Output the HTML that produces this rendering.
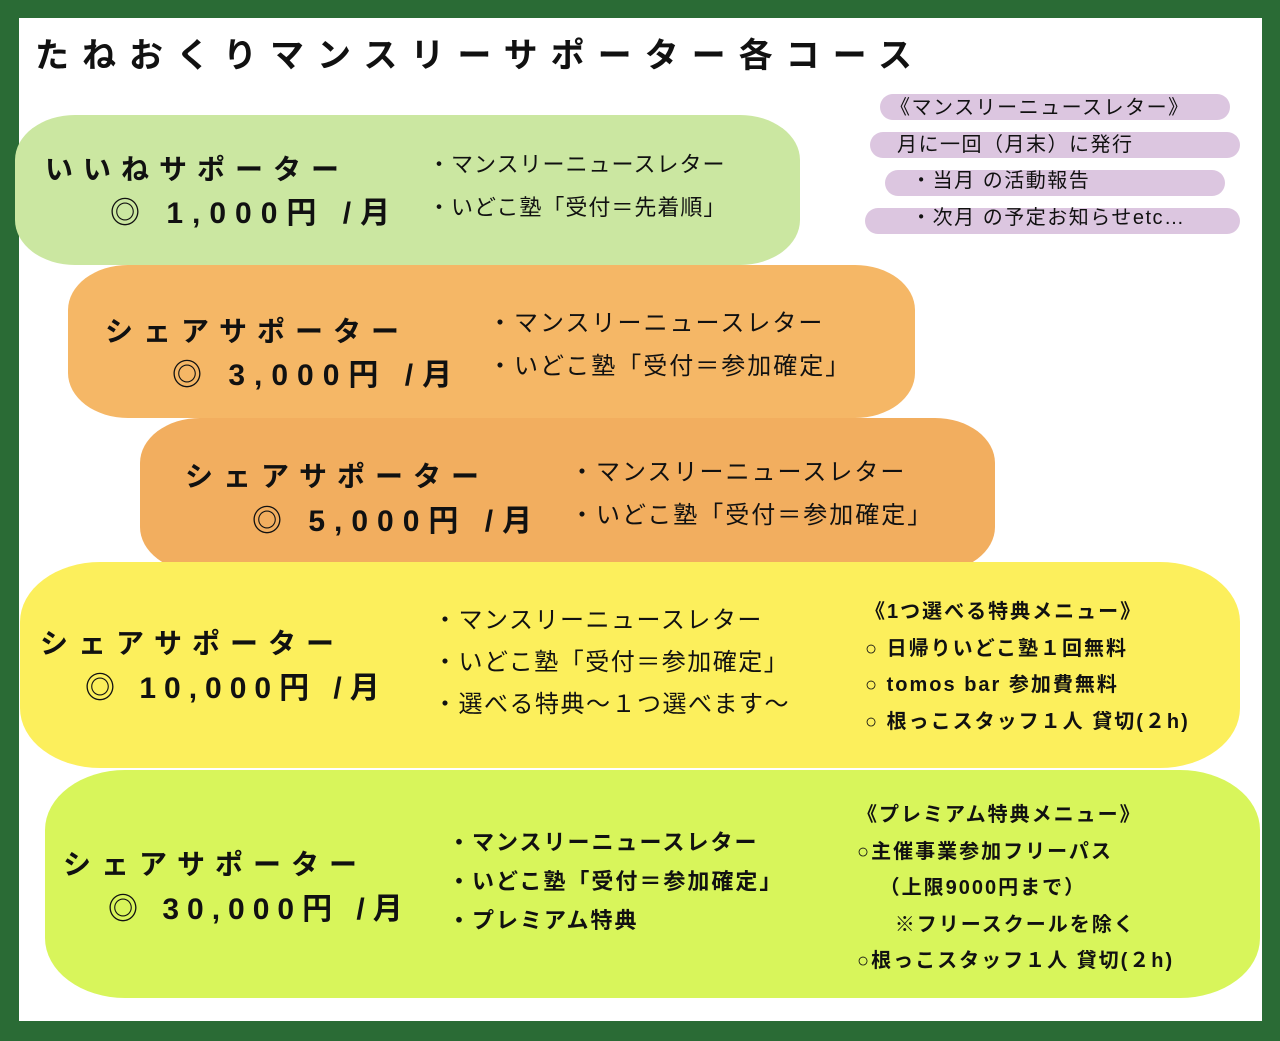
<!DOCTYPE html>
<html><head><meta charset="utf-8"><style>
body{margin:0;width:1280px;height:1041px;position:relative;overflow:hidden;background:#2a6b35;font-family:"Liberation Sans","Noto Sans CJK JP",sans-serif;color:#111}
.in{position:absolute;left:19px;top:18px;width:1243px;height:1003px;background:#fff}
.b{position:absolute;border-radius:60px/45px}
.t{position:absolute;font-weight:bold;white-space:nowrap}
.n{position:absolute;white-space:nowrap;font-size:22px;line-height:43px;letter-spacing:1px}
.s{position:absolute;white-space:nowrap;font-size:20px;line-height:36.5px;font-weight:bold;letter-spacing:2px}
.p{position:absolute;background:#dcc6e0;height:26px;border-radius:13px}
</style></head><body>
<div class="in"></div>
<div class="t" style="left:35px;top:28px;font-size:34px;letter-spacing:13px">たねおくりマンスリーサポーター各コース</div>
<div class="p" style="left:880px;top:94px;width:350px"></div>
<div class="p" style="left:870px;top:132px;width:370px"></div>
<div class="p" style="left:885px;top:170px;width:340px"></div>
<div class="p" style="left:865px;top:208px;width:375px"></div>
<div class="s" style="left:890px;top:90px;font-weight:normal;font-size:20px;letter-spacing:1.5px">《マンスリーニュースレター》<br>&nbsp;月に一回（月末）に発行<br>&nbsp;&nbsp;&nbsp;・当月 の活動報告<br>&nbsp;&nbsp;&nbsp;・次月 の予定お知らせetc…</div>

<div class="b" style="left:15px;top:115px;width:785px;height:150px;background:#cbe7a1"></div>
<div class="t" style="left:45px;top:148px;font-size:28px;letter-spacing:10px">いいねサポーター</div>
<div class="t" style="left:110px;top:188px;font-size:30px;letter-spacing:9px">◎ 1,000円 /月</div>
<div class="n" style="left:428px;top:143px">・マンスリーニュースレター<br>・いどこ塾「受付＝先着順」</div>

<div class="b" style="left:68px;top:265px;width:847px;height:153px;background:#f5b766"></div>
<div class="t" style="left:105px;top:310px;font-size:28px;letter-spacing:10px">シェアサポーター</div>
<div class="t" style="left:172px;top:350px;font-size:30px;letter-spacing:9px">◎ 3,000円 /月</div>
<div class="n" style="left:488px;top:302px;font-size:24px;letter-spacing:2px">・マンスリーニュースレター<br>・いどこ塾「受付＝参加確定」</div>

<div class="b" style="left:140px;top:418px;width:855px;height:154px;background:#f2ae5f"></div>
<div class="t" style="left:185px;top:455px;font-size:28px;letter-spacing:10px">シェアサポーター</div>
<div class="t" style="left:252px;top:496px;font-size:30px;letter-spacing:9px">◎ 5,000円 /月</div>
<div class="n" style="left:570px;top:451px;font-size:24px;letter-spacing:2px">・マンスリーニュースレター<br>・いどこ塾「受付＝参加確定」</div>

<div class="b" style="left:20px;top:562px;width:1220px;height:206px;background:#fcef5c;border-radius:80px/60px"></div>
<div class="t" style="left:40px;top:622px;font-size:28px;letter-spacing:10px">シェアサポーター</div>
<div class="t" style="left:85px;top:663px;font-size:30px;letter-spacing:8px">◎ 10,000円 /月</div>
<div class="n" style="left:433px;top:600px;font-size:24px;line-height:42px;letter-spacing:1.5px">・マンスリーニュースレター<br>・いどこ塾「受付＝参加確定」<br>・選べる特典～１つ選べます～</div>
<div class="s" style="left:865px;top:594px">《1つ選べる特典メニュー》<br>○ 日帰りいどこ塾１回無料<br>○ tomos bar 参加費無料<br>○ 根っこスタッフ１人 貸切(２h)</div>

<div class="b" style="left:45px;top:770px;width:1215px;height:228px;background:#d8f55b;border-radius:80px/60px"></div>
<div class="t" style="left:63px;top:843px;font-size:28px;letter-spacing:10px">シェアサポーター</div>
<div class="t" style="left:108px;top:884px;font-size:30px;letter-spacing:8px">◎ 30,000円 /月</div>
<div class="s" style="left:448px;top:823px;font-size:22px;line-height:39px;letter-spacing:2px">・マンスリーニュースレター<br>・いどこ塾「受付＝参加確定」<br>・プレミアム特典</div>
<div class="s" style="left:857px;top:797px">《プレミアム特典メニュー》<br>○主催事業参加フリーパス<br>&nbsp;&nbsp;&nbsp;（上限9000円まで）<br>&nbsp;&nbsp;&nbsp;&nbsp;&nbsp;※フリースクールを除く<br>○根っこスタッフ１人 貸切(２h)</div>
</body></html>
